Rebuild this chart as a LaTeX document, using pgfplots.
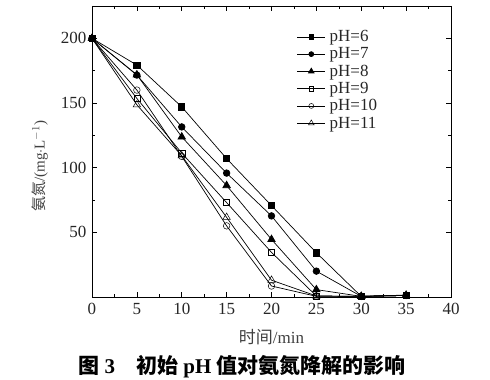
\documentclass[border=0pt]{standalone}
\usepackage{pgfplots}
\pgfplotsset{compat=1.18}
\usepackage{fontspec}
\setmainfont{Liberation Serif}
\newfontfamily\cjk{Noto Sans CJK SC}
\begin{document}
\begin{tikzpicture}[x=1pt,y=1pt]
\begin{axis}[name=ax,
  scale only axis, width=359pt, height=291pt,
  xmin=0, xmax=40, ymin=0, ymax=225,
  xtick={0,5,...,40}, ytick={50,100,150,200},
  minor x tick num=1, minor y tick num=1,
  tick align=inside, tick style={black, line width=0.6pt},
  major tick length=5pt, minor tick length=3pt,
  axis line style={line width=0.8pt},
  /pgf/number format/assume math mode=true,
  tick label style={font=\fontsize{17}{19}\selectfont, text=black!85},
  xticklabel style={yshift=-3pt},
  yticklabel style={xshift=-2pt},
  xlabel={{\cjk 时间}/min},
  xlabel style={font=\fontsize{17}{19}\selectfont, text=black!75, at={(rel axis cs:0.5,0)}, anchor=center, yshift=-40pt},
  ylabel={{\cjk 氨氮}/(mg$\cdot$L$^{-1}$)},
  ylabel style={font=\fontsize{15}{18}\selectfont, text=black!75, at={(rel axis cs:0,0.45)}, anchor=center, yshift=52pt},
  legend style={draw=none, fill=none, at={(0.562,0.93)}, anchor=north west,
    font=\fontsize{17}{19}\selectfont, row sep=0.5pt, text=black!85},
  legend cell align=left,
  legend image code/.code={\draw[mark repeat=2, mark phase=2, #1, every mark/.append style={scale=0.75}] plot coordinates {(0pt,0pt)(14pt,0pt)(28pt,0pt)};},
  every axis plot/.append style={black, line width=0.7pt},
  clip=false,
]
\addplot[mark=square*, mark size=3.1pt] coordinates {(0,200)(5,179.3)(10,147)(15,107)(20,70.7)(25,34.2)(30,0.5)(35,1.2)};
\addlegendentry{\hspace{2pt}pH=6}
\addplot[mark=*, mark size=3.3pt] coordinates {(0,200)(5,171.6)(10,131.5)(15,95.8)(20,62.7)(25,20)(30,0.5)(35,1.2)};
\addlegendentry{\hspace{2pt}pH=7}
\addplot[mark=triangle*, mark size=4.3pt] coordinates {(0,200)(5,171.8)(10,123.8)(15,86.2)(20,44.5)(25,5.7)(30,0.5)(35,1.2)};
\addlegendentry{\hspace{2pt}pH=8}
\addplot[mark=square, mark size=3.1pt, mark options={fill=white, line width=0.5pt}] coordinates {(0,200)(5,153.5)(10,111.3)(15,73)(20,34.5)(25,0.8)(30,0.5)(35,1.2)};
\addlegendentry{\hspace{2pt}pH=9}
\addplot[mark=o, mark size=3.3pt, mark options={fill=white, line width=0.5pt}] coordinates {(0,200)(5,160)(10,108.7)(15,55)(20,8.5)(25,0.5)(30,0.5)(35,1.2)};
\addlegendentry{\hspace{2pt}pH=10}
\addplot[mark=triangle, mark size=4.3pt, mark options={fill=white, line width=0.5pt}] coordinates {(0,200)(5,148.6)(10,109.2)(15,61.6)(20,13)(25,0.8)(30,0.5)(35,1.5)};
\addlegendentry{\hspace{2pt}pH=11}
\end{axis}
\node[font=\fontsize{21}{24}\selectfont\bfseries, anchor=center] at ([xshift=150pt,yshift=-70pt]ax.south west) {{\cjk 图} 3\quad{\cjk 初始} pH {\cjk 值对氨氮降解的影响}};
\pgfresetboundingbox
\path[use as bounding box] ([xshift=-92pt,yshift=-83pt]ax.south west) rectangle ([xshift=39pt,yshift=6pt]ax.north east);
\end{tikzpicture}
\end{document}
